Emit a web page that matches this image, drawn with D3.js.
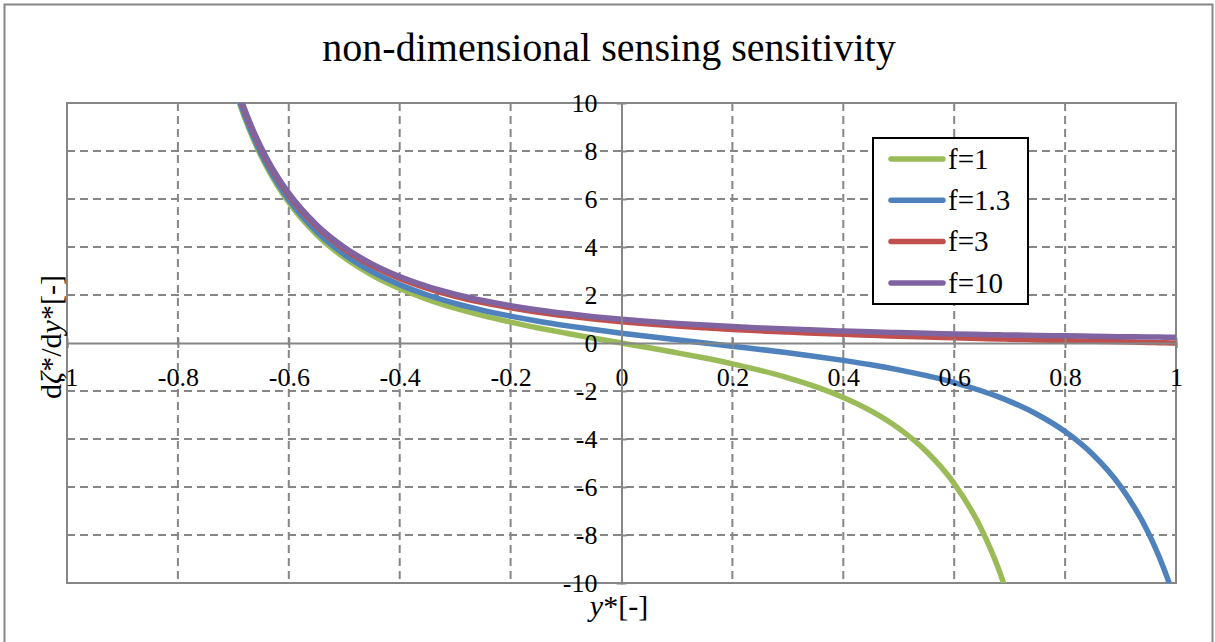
<!DOCTYPE html>
<html>
<head>
<meta charset="utf-8">
<script src="https://cdn.jsdelivr.net/npm/d3@7"></script>
<style>
  body { margin: 0; background: #fff; }
  svg { display: block; font-family: "Liberation Serif", "DejaVu Serif", serif; }
</style>
</head>
<body>
<div id="chart"></div>
<script>
// sample positions along y*
const xs = [-0.7, -0.68, -0.66, -0.64, -0.62, -0.6, -0.55, -0.5, -0.45, -0.4, -0.35, -0.3, -0.25, -0.2, -0.15, -0.1, -0.05,
    0, 0.05, 0.1, 0.15, 0.2, 0.25, 0.3, 0.35, 0.4, 0.45, 0.5, 0.55, 0.6, 0.65, 0.68, 0.7, 0.75, 0.8, 0.85, 0.9, 0.95, 0.97, 0.99, 1.0];

const f1 = [10.765, 9.412, 8.288, 7.344, 6.544, 5.859, 4.522, 3.556, 2.830, 2.268, 1.818, 1.449, 1.138, 0.868, 0.628, 0.409, 0.201,
    0, -0.201, -0.409, -0.628, -0.868, -1.138, -1.449, -1.818, -2.268, -2.830, -3.556, -4.522, -5.859, -7.796, -9.412, -10.765,
    null, null, null, null, null, null, null, null];
const f13 = [10.861, 9.511, 8.391, 7.450, 6.654, 5.973, 4.646, 3.691, 2.979, 2.432, 2.000, 1.650, 1.362, 1.118, 0.908, 0.725, 0.559,
    0.408, 0.267, 0.132, 0.000, -0.132, -0.267, -0.408, -0.559, -0.725, -0.908, -1.118, -1.362, -1.650, -2.000, -2.247, -2.432,
    -2.979, -3.691, -4.646, -5.973, -7.900, -8.925, -10.154, -10.861];
const f3 = [11.038, 9.692, 8.576, 7.640, 6.849, 6.173, 4.859, 3.918, 3.222, 2.691, 2.278, 1.949, 1.683, 1.465, 1.283, 1.131, 1.001,
    0.889, 0.792, 0.707, 0.633, 0.566, 0.508, 0.455, 0.407, 0.362, 0.322, 0.284, 0.249, 0.217, 0.186, 0.168, 0.157,
    0.130, 0.102, 0.076, 0.050, 0.025, 0.015, 0.005, 0.000];
const f10 = [11.102, 9.757, 8.642, 7.707, 6.916, 6.241, 4.929, 3.991, 3.297, 2.769, 2.358, 2.032, 1.769, 1.553, 1.374, 1.225, 1.098,
    0.990, 0.897, 0.816, 0.746, 0.684, 0.630, 0.581, 0.538, 0.499, 0.465, 0.433, 0.405, 0.380, 0.356, 0.343, 0.334,
    0.315, 0.297, 0.280, 0.265, 0.251, 0.246, 0.240, 0.238];

const seriesNames = ["f=1", "f=1.3", "f=3", "f=10"];
const seriesValues = [f1, f13, f3, f10];
const seriesColors = ["#9bbb59", "#4f81bd", "#c0504d", "#8064a2"];

const xTicks = [-1, -0.8, -0.6, -0.4, -0.2, 0, 0.2, 0.4, 0.6, 0.8, 1];
const yTicks = [-10, -8, -6, -4, -2, 0, 2, 4, 6, 8, 10];

const W = 1215, H = 642;
const plot = { left: 67, right: 1176, top: 103, bottom: 583 };
const gridColor = "#868686";

const svg = d3.select("#chart").append("svg")
    .attr("width", W)
    .attr("height", H);

// chart area border
svg.append("rect")
    .attr("x", 4.5).attr("y", 4.5)
    .attr("width", 1208).attr("height", 660)
    .attr("fill", "#fff")
    .attr("stroke", gridColor)
    .attr("stroke-width", 2);

const x = d3.scaleLinear().domain([-1, 1]).range([plot.left, plot.right]);
const y = d3.scaleLinear().domain([-10, 10]).range([plot.bottom, plot.top]);

/* ---------- gridlines ---------- */
const grid = svg.append("g");
grid.selectAll(".vg")
    .data(xTicks.filter(d => d !== 0 && Math.abs(d) !== 1))
    .join("line")
    .attr("x1", d => x(d)).attr("x2", d => x(d))
    .attr("y1", plot.top).attr("y2", plot.bottom)
    .attr("stroke", gridColor).attr("stroke-width", 2)
    .attr("stroke-dasharray", "8,5");
grid.selectAll(".hg")
    .data(yTicks.filter(d => d !== 0 && Math.abs(d) !== 10))
    .join("line")
    .attr("y1", d => y(d)).attr("y2", d => y(d))
    .attr("x1", plot.left).attr("x2", plot.right)
    .attr("stroke", gridColor).attr("stroke-width", 2)
    .attr("stroke-dasharray", "8,5");

// plot area border
svg.append("rect")
    .attr("x", plot.left).attr("y", plot.top)
    .attr("width", plot.right - plot.left).attr("height", plot.bottom - plot.top)
    .attr("fill", "none")
    .attr("stroke", gridColor).attr("stroke-width", 2);

/* ---------- axes through the origin ---------- */
const xAxis = d3.axisBottom(x).tickValues(xTicks).tickSize(5).tickFormat(d => d);
const yAxis = d3.axisLeft(y).tickValues(yTicks).tickSize(5).tickFormat(d => d);

const gx = svg.append("g").attr("transform", `translate(0,${y(0)})`).call(xAxis);
const gy = svg.append("g").attr("transform", `translate(${x(0)},0)`).call(yAxis);

[gx, gy].forEach(g => {
    g.select(".domain").attr("stroke", gridColor).attr("stroke-width", 2);
    g.selectAll(".tick line").attr("stroke", gridColor).attr("stroke-width", 2);
    g.selectAll(".tick text").attr("fill", "#000").attr("font-size", 26)
        .attr("font-family", "Liberation Serif, serif");
});
gx.selectAll(".tick line").attr("y1", -5);
gx.selectAll(".tick text").attr("y", 25).attr("dy", "0.71em");
gy.selectAll(".tick line").attr("x2", 5);
gy.selectAll(".tick text").attr("x", -24).attr("dy", "0.34em");

/* ---------- series ---------- */
svg.append("clipPath").attr("id", "plotclip")
    .append("rect")
    .attr("x", plot.left).attr("y", plot.top)
    .attr("width", plot.right - plot.left).attr("height", plot.bottom - plot.top);

const line = d3.line()
    .defined(d => d[1] != null)
    .x(d => x(d[0]))
    .y(d => y(d[1]))
    .curve(d3.curveMonotoneX);

svg.append("g")
    .attr("clip-path", "url(#plotclip)")
    .selectAll("path")
    .data(seriesValues)
    .join("path")
    .attr("d", vals => line(xs.map((v, i) => [v, vals[i]])))
    .attr("fill", "none")
    .attr("stroke", (d, i) => seriesColors[i])
    .attr("stroke-width", 5.5)
    .attr("stroke-linejoin", "round");

gx.raise();
gy.raise();

/* ---------- titles ---------- */
svg.append("text")
    .attr("x", 609).attr("y", 61)
    .attr("text-anchor", "middle")
    .attr("font-size", 40)
    .text("non-dimensional sensing sensitivity");

const xt = svg.append("text")
    .attr("x", 619).attr("y", 616)
    .attr("text-anchor", "middle")
    .attr("font-size", 30);
xt.append("tspan").attr("font-style", "italic").text("y");
xt.append("tspan").text("*[-]");

const yt = svg.append("text")
    .attr("transform", "translate(61,337) rotate(-90)")
    .attr("text-anchor", "middle")
    .attr("font-size", 30);
yt.append("tspan").text("d");
yt.append("tspan").attr("font-style", "italic").text("ζ");
yt.append("tspan").text("*/d");
yt.append("tspan").attr("font-style", "italic").text("y");
yt.append("tspan").text("*[-]");

/* ---------- legend ---------- */
const lg = svg.append("g").attr("transform", "translate(873,138)");
lg.append("rect")
    .attr("width", 155).attr("height", 166)
    .attr("fill", "#fff")
    .attr("stroke", "#000").attr("stroke-width", 2);

const item = lg.selectAll(".item")
    .data(seriesNames)
    .join("g")
    .attr("transform", (d, i) => `translate(0,${21 + i * 41.3})`);
item.append("line")
    .attr("x1", 18).attr("x2", 70)
    .attr("stroke", (d, i) => seriesColors[i])
    .attr("stroke-width", 5.5)
    .attr("stroke-linecap", "round");
item.append("text")
    .attr("x", 75).attr("dy", "0.34em")
    .attr("font-size", 29)
    .text(d => d);
</script>
</body>
</html>
